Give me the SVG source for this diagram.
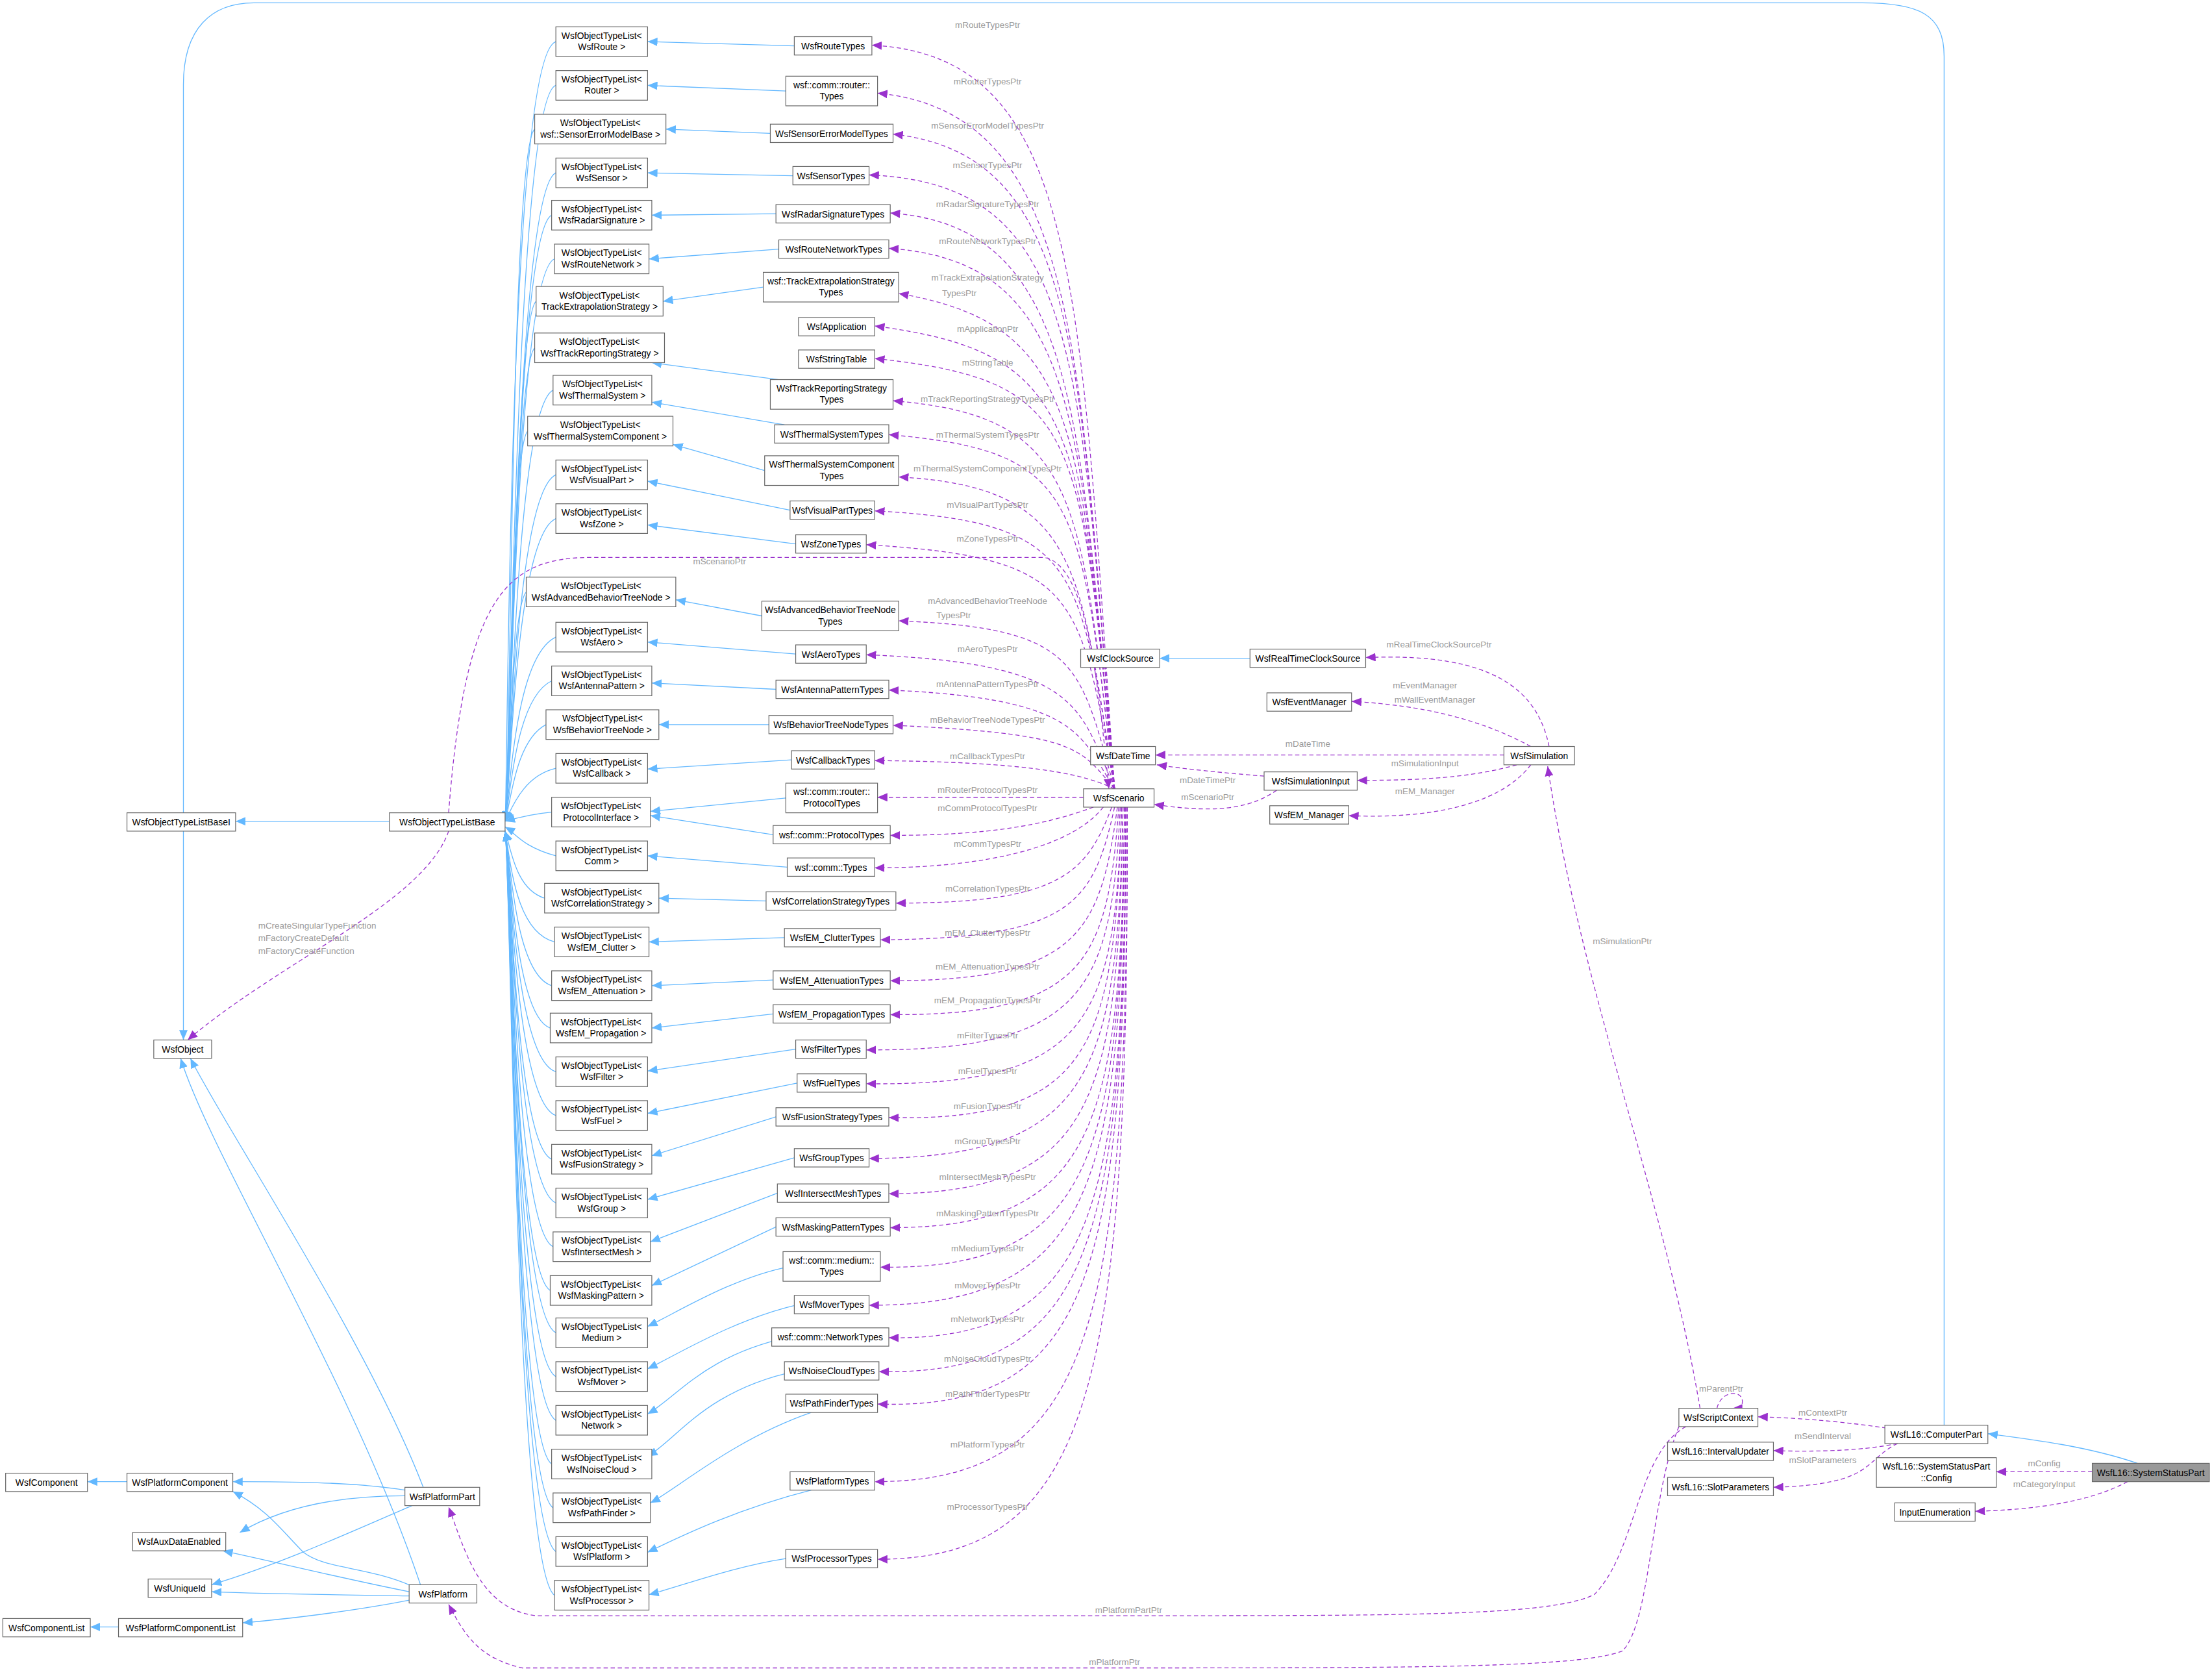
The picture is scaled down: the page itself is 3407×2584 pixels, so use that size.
<svg xmlns="http://www.w3.org/2000/svg" width="3407" height="2584" viewBox="0 0 3407 2584">
<style>
.n rect{fill:#fff;stroke:#666;stroke-width:0.55}
.n text,.t{font-family:"Liberation Sans",Arial,sans-serif;font-size:6.4px;fill:#000;text-anchor:middle}
.l{font-family:"Liberation Sans",Arial,sans-serif;font-size:6.2px;fill:#9a9a9a;text-anchor:middle}
.b{fill:none;stroke:#63b8ff;stroke-width:0.6;marker-end:url(#ab)}
.p{fill:none;stroke:#9a32cd;stroke-width:0.6;stroke-dasharray:3,2;marker-end:url(#ap)}
</style>
<defs>
<marker id="ab" markerUnits="userSpaceOnUse" markerWidth="7" markerHeight="6" refX="7" refY="3" orient="auto"><path d="M0,0 L7,3 L0,6 z" fill="#63b8ff"/></marker>
<marker id="ap" markerUnits="userSpaceOnUse" markerWidth="7" markerHeight="6" refX="7" refY="3" orient="auto"><path d="M0,0 L7,3 L0,6 z" fill="#9a32cd"/></marker>
</defs>
<rect width="3407" height="2584" fill="#fff"/>
<g transform="scale(2.173)">
<g id="connectors">
<path class="b" d="M1378,1010 L1378,40 C1378,10 1360,2 1320,2 L180,2 C150,2 130,20 130,60 L130,737"/>
<path class="b" d="M276,582 L167,582"/>
<path class="p" d="M318,589 C300,640 200,680 133,737"/>
<text class="l" x="183" y="658" style="text-anchor:start">mCreateSingularTypeFunction</text>
<text class="l" x="183" y="667" style="text-anchor:start">mFactoryCreateDefault</text>
<text class="l" x="183" y="676" style="text-anchor:start">mFactoryCreateFunction</text>
<path class="b" d="M300,1054 C260,950 160,800 135,750"/>
<path class="b" d="M298,1123 C250,980 150,820 128,750"/>
<path class="b" d="M287,1056 C250,1050 200,1050 165,1050"/>
<path class="b" d="M287,1060 C240,1060 200,1068 170,1086"/>
<path class="b" d="M292,1067 C250,1085 200,1108 150,1123"/>
<path class="b" d="M292,1124 C260,1110 230,1112 215,1100 C200,1085 190,1070 165,1057"/>
<path class="b" d="M290,1128 C240,1118 200,1108 158,1099"/>
<path class="b" d="M290,1131 C240,1130 200,1130 150,1128"/>
<path class="b" d="M290,1134 C260,1140 210,1147 172,1150"/>
<path class="b" d="M90,1050 L62,1050"/>
<path class="b" d="M84,1153 L64,1153"/>
<g id="tb">
<path class="b" d="M394,29.5 C360,40 360,560 358,582"/>
<path class="b" d="M394,60.5 C365,70 362,560 358,582"/>
<path class="b" d="M379,91.5 C362,105 362,560 358,582"/>
<path class="b" d="M394,122.5 C365,135 362,560 358,582"/>
<path class="b" d="M391,152.5 C365,165 362,560 358,582"/>
<path class="b" d="M393,183.5 C365,195 362,560 358,582"/>
<path class="b" d="M380,213.5 C365,225 362,560 358,582"/>
<path class="b" d="M379,246.5 C365,258 362,560 358,582"/>
<path class="b" d="M392,276.5 C365,290 362,560 358,582"/>
<path class="b" d="M374,305.5 C362,318 362,560 358,582"/>
<path class="b" d="M394,336.5 C365,350 362,560 358,582"/>
<path class="b" d="M394,367.5 C365,380 362,560 358,582"/>
<path class="b" d="M373,419.5 C362,432 362,560 358,582"/>
<path class="b" d="M394,451.5 C365,465 362,560 358,582"/>
<path class="b" d="M391,482.5 C365,495 362,565 358,582"/>
<path class="b" d="M387,513.5 C365,525 362,570 358,582"/>
<path class="b" d="M394,544.5 C370,550 362,575 358,582"/>
<path class="b" d="M391,575.5 C375,577 365,580 358,582"/>
<path class="b" d="M394,606.5 C370,600 365,590 358,586"/>
<path class="b" d="M386,636.5 C365,630 362,600 358,589"/>
<path class="b" d="M393,667.5 C365,660 362,610 358,589"/>
<path class="b" d="M391,698.5 C365,690 362,610 358,589"/>
<path class="b" d="M390,728.5 C365,720 362,610 358,589"/>
<path class="b" d="M394,759.5 C365,750 362,610 358,589"/>
<path class="b" d="M394,790.5 C365,780 362,610 358,589"/>
<path class="b" d="M391,821.5 C365,810 362,610 358,589"/>
<path class="b" d="M394,852.5 C365,840 362,610 358,589"/>
<path class="b" d="M392,883.5 C365,870 362,610 358,589"/>
<path class="b" d="M390,914.5 C365,900 362,610 358,589"/>
<path class="b" d="M394,944.5 C365,930 362,610 358,589"/>
<path class="b" d="M394,975.5 C365,960 362,610 358,589"/>
<path class="b" d="M394,1006.5 C365,990 362,610 358,589"/>
<path class="b" d="M391,1037.5 C365,1020 362,610 358,589"/>
<path class="b" d="M392,1068.5 C365,1050 362,610 358,589"/>
<path class="b" d="M394,1099.5 C365,1080 362,610 358,589"/>
<path class="b" d="M393,1130.5 C365,1110 362,610 358,589"/>
</g>
<g id="yt">
<path class="b" d="M563,32.5 L459,29.5"/>
<path class="b" d="M557,64.5 L459,60.5"/>
<path class="b" d="M546,94.5 L472,91.5"/>
<path class="b" d="M562,124.5 L459,122.5"/>
<path class="b" d="M550,151.5 L462,152.5"/>
<path class="b" d="M552,176.5 L460,183.5"/>
<path class="b" d="M541,203.5 L470,213.5"/>
<path class="b" d="M552,269 L462,257"/>
<path class="b" d="M556,301 L462,285"/>
<path class="b" d="M542,333.5 L477,315"/>
<path class="b" d="M560,361.5 L459,341"/>
<path class="b" d="M564,385.5 L459,372"/>
<path class="b" d="M540,436.5 L479,425"/>
<path class="b" d="M564,463.5 L459,455"/>
<path class="b" d="M550,488.5 L462,484"/>
<path class="b" d="M545,513.5 L467,513.5"/>
<path class="b" d="M561,538.5 L459,545"/>
<path class="b" d="M557,565.5 L461,575"/>
<path class="b" d="M548,591.5 L461,578"/>
<path class="b" d="M558,614.5 L459,606.5"/>
<path class="b" d="M543,638.5 L467,636.5"/>
<path class="b" d="M556,664.5 L460,667.5"/>
<path class="b" d="M548,694.5 L462,698.5"/>
<path class="b" d="M548,718.5 L462,728.5"/>
<path class="b" d="M564,743.5 L459,759"/>
<path class="b" d="M565,767.5 L459,789"/>
<path class="b" d="M550,791.5 L462,819"/>
<path class="b" d="M563,820.5 L459,850"/>
<path class="b" d="M551,845.5 L461,880"/>
<path class="b" d="M550,869.5 L462,911"/>
<path class="b" d="M560,897.5 C520,905 480,930 459,940"/>
<path class="b" d="M566,924.5 C520,935 480,960 459,970"/>
<path class="b" d="M560,947.5 C500,960 480,990 459,1002"/>
<path class="b" d="M565,971.5 C500,985 480,1020 459,1032"/>
<path class="b" d="M575,1001 C520,1020 480,1055 461,1065"/>
<path class="b" d="M575,1056 C520,1070 480,1090 459,1100"/>
<path class="b" d="M557,1104.5 C520,1110 480,1125 460,1130"/>
</g>
<g id="sy">
<path class="p" d="M790,559 C765,200 765,40 618,32"/>
<path class="p" d="M790,559 C765,250 765,80 622,66"/>
<path class="p" d="M790,559 C765,250 765,110 633,95"/>
<path class="p" d="M790,559 C765,250 765,130 616,124"/>
<path class="p" d="M790,559 C765,300 765,160 631,151"/>
<path class="p" d="M790,559 C765,300 765,185 630,176"/>
<path class="p" d="M790,559 C765,300 765,230 637,208"/>
<path class="p" d="M790,559 C765,300 765,250 620,231"/>
<path class="p" d="M790,559 C765,300 765,270 620,254"/>
<path class="p" d="M790,559 C765,350 765,295 633,284"/>
<path class="p" d="M790,559 C765,350 765,320 630,308"/>
<path class="p" d="M790,559 C765,400 765,345 637,338"/>
<path class="p" d="M790,559 C765,400 765,370 620,362"/>
<path class="p" d="M790,559 C765,420 765,395 614,386"/>
<path class="p" d="M790,559 C765,470 765,445 637,440"/>
<path class="p" d="M790,559 C765,500 765,470 614,464"/>
<path class="p" d="M790,559 C765,520 765,495 630,489"/>
<path class="p" d="M790,559 C765,530 765,520 633,514"/>
<path class="p" d="M790,559 C770,550 740,540 620,539"/>
<path class="p" d="M768,565 L622,565"/>
<path class="p" d="M775,572 C740,585 700,592 631,592"/>
<path class="p" d="M782,572 C760,600 700,615 620,615"/>
<path class="p" d="M788,572 C770,620 750,640 635,640"/>
<path class="p" d="M790,572 C775,640 760,665 624,666"/>
<path class="p" d="M792,572 C780,660 765,695 631,695"/>
<path class="p" d="M793,572 C785,680 770,720 631,719"/>
<path class="p" d="M794,572 C788,700 770,745 614,744"/>
<path class="p" d="M795,572 C790,720 775,770 614,768"/>
<path class="p" d="M795,572 C790,740 775,795 630,792"/>
<path class="p" d="M796,572 C792,760 775,820 616,821"/>
<path class="p" d="M796,572 C793,780 775,845 630,846"/>
<path class="p" d="M797,572 C795,800 775,870 631,870"/>
<path class="p" d="M797,572 C795,820 775,900 624,898"/>
<path class="p" d="M797,572 C796,840 775,925 616,925"/>
<path class="p" d="M798,572 C797,860 775,950 630,948"/>
<path class="p" d="M798,572 C797,880 775,975 623,972"/>
<path class="p" d="M798,572 C798,900 775,1000 622,995"/>
<path class="p" d="M799,572 C799,940 775,1050 620,1050"/>
<path class="p" d="M799,572 C800,980 775,1105 622,1105"/>
</g>
<g id="sl">
<text class="l" x="700" y="20">mRouteTypesPtr</text>
<text class="l" x="700" y="60">mRouterTypesPtr</text>
<text class="l" x="700" y="91">mSensorErrorModelTypesPtr</text>
<text class="l" x="700" y="119">mSensorTypesPtr</text>
<text class="l" x="700" y="147">mRadarSignatureTypesPtr</text>
<text class="l" x="700" y="173">mRouteNetworkTypesPtr</text>
<text class="l" x="700" y="199">mTrackExtrapolationStrategy</text>
<text class="l" x="680" y="210">TypesPtr</text>
<text class="l" x="700" y="235">mApplicationPtr</text>
<text class="l" x="700" y="259">mStringTable</text>
<text class="l" x="700" y="285">mTrackReportingStrategyTypesPtr</text>
<text class="l" x="700" y="310">mThermalSystemTypesPtr</text>
<text class="l" x="700" y="334">mThermalSystemComponentTypesPtr</text>
<text class="l" x="700" y="360">mVisualPartTypesPtr</text>
<text class="l" x="700" y="384">mZoneTypesPtr</text>
<text class="l" x="510" y="400">mScenarioPtr</text>
<text class="l" x="700" y="428">mAdvancedBehaviorTreeNode</text>
<text class="l" x="676" y="438">TypesPtr</text>
<text class="l" x="700" y="462">mAeroTypesPtr</text>
<text class="l" x="700" y="487">mAntennaPatternTypesPtr</text>
<text class="l" x="700" y="512">mBehaviorTreeNodeTypesPtr</text>
<text class="l" x="700" y="538">mCallbackTypesPtr</text>
<text class="l" x="700" y="562">mRouterProtocolTypesPtr</text>
<text class="l" x="700" y="575">mCommProtocolTypesPtr</text>
<text class="l" x="700" y="600">mCommTypesPtr</text>
<text class="l" x="700" y="632">mCorrelationTypesPtr</text>
<text class="l" x="700" y="663">mEM_ClutterTypesPtr</text>
<text class="l" x="700" y="687">mEM_AttenuationTypesPtr</text>
<text class="l" x="700" y="711">mEM_PropagationTypesPtr</text>
<text class="l" x="700" y="736">mFilterTypesPtr</text>
<text class="l" x="700" y="761">mFuelTypesPtr</text>
<text class="l" x="700" y="786">mFusionTypesPtr</text>
<text class="l" x="700" y="811">mGroupTypesPtr</text>
<text class="l" x="700" y="836">mIntersectMeshTypesPtr</text>
<text class="l" x="700" y="862">mMaskingPatternTypesPtr</text>
<text class="l" x="700" y="887">mMediumTypesPtr</text>
<text class="l" x="700" y="913">mMoverTypesPtr</text>
<text class="l" x="700" y="937">mNetworkTypesPtr</text>
<text class="l" x="700" y="965">mNoiseCloudTypesPtr</text>
<text class="l" x="700" y="990">mPathFinderTypesPtr</text>
<text class="l" x="700" y="1026">mPlatformTypesPtr</text>
<text class="l" x="700" y="1070">mProcessorTypesPtr</text>
</g>
<path class="p" d="M318,576 C330,420 360,395 420,395 L740,395 C770,400 778,480 786,559"/>
<path class="b" d="M886,466.5 L822,466.5"/>
<path class="p" d="M1098,529 C1090,490 1060,462 968,466"/>
<path class="p" d="M1085,529 C1050,510 1010,500 958,497"/>
<text class="l" x="1020" y="459">mRealTimeClockSourcePtr</text>
<text class="l" x="1010" y="488">mEventManager</text>
<text class="l" x="1017" y="498">mWallEventManager</text>
<path class="p" d="M1066,535 L819,535"/>
<text class="l" x="927" y="529">mDateTime</text>
<path class="p" d="M1075,542 C1040,552 1000,553 962,553"/>
<text class="l" x="1010" y="543">mSimulationInput</text>
<path class="p" d="M1085,542 C1060,575 1000,580 956,578"/>
<text class="l" x="1010" y="563">mEM_Manager</text>
<path class="p" d="M896,550 C870,548 840,545 820,542"/>
<text class="l" x="856" y="555">mDateTimePtr</text>
<path class="p" d="M905,560 C890,570 870,578 818,570"/>
<text class="l" x="856" y="567">mScenarioPtr</text>
<path class="p" d="M1205,998 C1180,850 1120,700 1097,543"/>
<text class="l" x="1150" y="669">mSimulationPtr</text>
<path class="p" d="M1217,998 C1220,985 1235,985 1235,993 C1235,1000 1230,998 1228,998"/>
<text class="l" x="1220" y="986">mParentPtr</text>
<path class="p" d="M1195,1011 C1160,1030 1160,1100 1130,1130 C1100,1145 1000,1145 800,1145 L380,1145 C340,1140 330,1100 318,1068"/>
<text class="l" x="800" y="1143">mPlatformPartPtr</text>
<path class="p" d="M1190,1011 C1170,1060 1170,1150 1150,1170 C1120,1182 1000,1182 800,1182 L370,1182 C340,1175 330,1160 318,1137"/>
<text class="l" x="790" y="1180">mPlatformPtr</text>
<path class="p" d="M1337,1012 C1310,1008 1280,1005 1246,1004"/>
<text class="l" x="1292" y="1003">mContextPtr</text>
<path class="p" d="M1345,1023 C1320,1028 1290,1029 1257,1028"/>
<text class="l" x="1292" y="1020">mSendInterval</text>
<path class="p" d="M1345,1023 C1320,1035 1330,1052 1257,1054"/>
<text class="l" x="1292" y="1037">mSlotParameters</text>
<path class="b" d="M1515,1037 C1480,1025 1440,1020 1409,1016"/>
<path class="p" d="M1483,1043 L1415,1043"/>
<text class="l" x="1449" y="1039">mConfig</text>
<path class="p" d="M1508,1050 C1480,1065 1440,1070 1400,1071"/>
<text class="l" x="1449" y="1054">mCategoryInput</text>
</g>
<g id="nodes">
<g class="n" id="base1"><rect x="90" y="576" width="77" height="13"/><text x="128.5" y="585">WsfObjectTypeListBaseI</text></g>
<g class="n" id="base"><rect x="276" y="576" width="82" height="13"/><text x="317" y="585">WsfObjectTypeListBase</text></g>
<g class="n" id="obj"><rect x="109" y="737" width="41" height="13"/><text x="129.5" y="746">WsfObject</text></g>
<g class="n" id="comp"><rect x="4" y="1044" width="58" height="13"/><text x="33" y="1053">WsfComponent</text></g>
<g class="n" id="pcomp"><rect x="90" y="1044" width="75" height="13"/><text x="127.5" y="1053">WsfPlatformComponent</text></g>
<g class="n" id="aux"><rect x="94" y="1086" width="66" height="13"/><text x="127" y="1095">WsfAuxDataEnabled</text></g>
<g class="n" id="uid"><rect x="105" y="1119" width="45" height="13"/><text x="127.5" y="1128">WsfUniqueId</text></g>
<g class="n" id="clist"><rect x="2" y="1147" width="62" height="13"/><text x="33" y="1156">WsfComponentList</text></g>
<g class="n" id="pclist"><rect x="84" y="1147" width="88" height="13"/><text x="128" y="1156">WsfPlatformComponentList</text></g>
<g class="n" id="ppart"><rect x="287" y="1054" width="53" height="13"/><text x="313.5" y="1063">WsfPlatformPart</text></g>
<g class="n" id="plat"><rect x="290" y="1123" width="48" height="13"/><text x="314" y="1132">WsfPlatform</text></g>
<g id="templates">
<g class="n" id="t1"><rect x="394" y="19" width="65" height="21"/><text x="426.5" y="27.5">WsfObjectTypeList&lt;</text><text x="426.5" y="35.5">WsfRoute &gt;</text></g>
<g class="n" id="t2"><rect x="394" y="50" width="65" height="21"/><text x="426.5" y="58.5">WsfObjectTypeList&lt;</text><text x="426.5" y="66.5">Router &gt;</text></g>
<g class="n" id="t3"><rect x="379" y="81" width="93" height="21"/><text x="425.5" y="89.5">WsfObjectTypeList&lt;</text><text x="425.5" y="97.5">wsf::SensorErrorModelBase &gt;</text></g>
<g class="n" id="t4"><rect x="394" y="112" width="65" height="21"/><text x="426.5" y="120.5">WsfObjectTypeList&lt;</text><text x="426.5" y="128.5">WsfSensor &gt;</text></g>
<g class="n" id="t5"><rect x="391" y="142" width="71" height="21"/><text x="426.5" y="150.5">WsfObjectTypeList&lt;</text><text x="426.5" y="158.5">WsfRadarSignature &gt;</text></g>
<g class="n" id="t6"><rect x="393" y="173" width="67" height="21"/><text x="426.5" y="181.5">WsfObjectTypeList&lt;</text><text x="426.5" y="189.5">WsfRouteNetwork &gt;</text></g>
<g class="n" id="t7"><rect x="380" y="203" width="90" height="21"/><text x="425" y="211.5">WsfObjectTypeList&lt;</text><text x="425" y="219.5">TrackExtrapolationStrategy &gt;</text></g>
<g class="n" id="t8"><rect x="379" y="236" width="92" height="21"/><text x="425" y="244.5">WsfObjectTypeList&lt;</text><text x="425" y="252.5">WsfTrackReportingStrategy &gt;</text></g>
<g class="n" id="t9"><rect x="392" y="266" width="70" height="21"/><text x="427" y="274.5">WsfObjectTypeList&lt;</text><text x="427" y="282.5">WsfThermalSystem &gt;</text></g>
<g class="n" id="t10"><rect x="374" y="295" width="103" height="21"/><text x="425.5" y="303.5">WsfObjectTypeList&lt;</text><text x="425.5" y="311.5">WsfThermalSystemComponent &gt;</text></g>
<g class="n" id="t11"><rect x="394" y="326" width="65" height="21"/><text x="426.5" y="334.5">WsfObjectTypeList&lt;</text><text x="426.5" y="342.5">WsfVisualPart &gt;</text></g>
<g class="n" id="t12"><rect x="394" y="357" width="65" height="21"/><text x="426.5" y="365.5">WsfObjectTypeList&lt;</text><text x="426.5" y="373.5">WsfZone &gt;</text></g>
<g class="n" id="t13"><rect x="373" y="409" width="106" height="21"/><text x="426" y="417.5">WsfObjectTypeList&lt;</text><text x="426" y="425.5">WsfAdvancedBehaviorTreeNode &gt;</text></g>
<g class="n" id="t14"><rect x="394" y="441" width="65" height="21"/><text x="426.5" y="449.5">WsfObjectTypeList&lt;</text><text x="426.5" y="457.5">WsfAero &gt;</text></g>
<g class="n" id="t15"><rect x="391" y="472" width="71" height="21"/><text x="426.5" y="480.5">WsfObjectTypeList&lt;</text><text x="426.5" y="488.5">WsfAntennaPattern &gt;</text></g>
<g class="n" id="t16"><rect x="387" y="503" width="80" height="21"/><text x="427" y="511.5">WsfObjectTypeList&lt;</text><text x="427" y="519.5">WsfBehaviorTreeNode &gt;</text></g>
<g class="n" id="t17"><rect x="394" y="534" width="65" height="21"/><text x="426.5" y="542.5">WsfObjectTypeList&lt;</text><text x="426.5" y="550.5">WsfCallback &gt;</text></g>
<g class="n" id="t18"><rect x="391" y="565" width="70" height="21"/><text x="426" y="573.5">WsfObjectTypeList&lt;</text><text x="426" y="581.5">ProtocolInterface &gt;</text></g>
<g class="n" id="t19"><rect x="394" y="596" width="65" height="21"/><text x="426.5" y="604.5">WsfObjectTypeList&lt;</text><text x="426.5" y="612.5">Comm &gt;</text></g>
<g class="n" id="t20"><rect x="386" y="626" width="81" height="21"/><text x="426.5" y="634.5">WsfObjectTypeList&lt;</text><text x="426.5" y="642.5">WsfCorrelationStrategy &gt;</text></g>
<g class="n" id="t21"><rect x="393" y="657" width="67" height="21"/><text x="426.5" y="665.5">WsfObjectTypeList&lt;</text><text x="426.5" y="673.5">WsfEM_Clutter &gt;</text></g>
<g class="n" id="t22"><rect x="391" y="688" width="71" height="21"/><text x="426.5" y="696.5">WsfObjectTypeList&lt;</text><text x="426.5" y="704.5">WsfEM_Attenuation &gt;</text></g>
<g class="n" id="t23"><rect x="390" y="718" width="72" height="21"/><text x="426" y="726.5">WsfObjectTypeList&lt;</text><text x="426" y="734.5">WsfEM_Propagation &gt;</text></g>
<g class="n" id="t24"><rect x="394" y="749" width="65" height="21"/><text x="426.5" y="757.5">WsfObjectTypeList&lt;</text><text x="426.5" y="765.5">WsfFilter &gt;</text></g>
<g class="n" id="t25"><rect x="394" y="780" width="65" height="21"/><text x="426.5" y="788.5">WsfObjectTypeList&lt;</text><text x="426.5" y="796.5">WsfFuel &gt;</text></g>
<g class="n" id="t26"><rect x="391" y="811" width="71" height="21"/><text x="426.5" y="819.5">WsfObjectTypeList&lt;</text><text x="426.5" y="827.5">WsfFusionStrategy &gt;</text></g>
<g class="n" id="t27"><rect x="394" y="842" width="65" height="21"/><text x="426.5" y="850.5">WsfObjectTypeList&lt;</text><text x="426.5" y="858.5">WsfGroup &gt;</text></g>
<g class="n" id="t28"><rect x="392" y="873" width="69" height="21"/><text x="426.5" y="881.5">WsfObjectTypeList&lt;</text><text x="426.5" y="889.5">WsfIntersectMesh &gt;</text></g>
<g class="n" id="t29"><rect x="390" y="904" width="72" height="21"/><text x="426" y="912.5">WsfObjectTypeList&lt;</text><text x="426" y="920.5">WsfMaskingPattern &gt;</text></g>
<g class="n" id="t30"><rect x="394" y="934" width="65" height="21"/><text x="426.5" y="942.5">WsfObjectTypeList&lt;</text><text x="426.5" y="950.5">Medium &gt;</text></g>
<g class="n" id="t31"><rect x="394" y="965" width="65" height="21"/><text x="426.5" y="973.5">WsfObjectTypeList&lt;</text><text x="426.5" y="981.5">WsfMover &gt;</text></g>
<g class="n" id="t32"><rect x="394" y="996" width="65" height="21"/><text x="426.5" y="1004.5">WsfObjectTypeList&lt;</text><text x="426.5" y="1012.5">Network &gt;</text></g>
<g class="n" id="t33"><rect x="391" y="1027" width="71" height="21"/><text x="426.5" y="1035.5">WsfObjectTypeList&lt;</text><text x="426.5" y="1043.5">WsfNoiseCloud &gt;</text></g>
<g class="n" id="t34"><rect x="392" y="1058" width="69" height="21"/><text x="426.5" y="1066.5">WsfObjectTypeList&lt;</text><text x="426.5" y="1074.5">WsfPathFinder &gt;</text></g>
<g class="n" id="t35"><rect x="394" y="1089" width="65" height="21"/><text x="426.5" y="1097.5">WsfObjectTypeList&lt;</text><text x="426.5" y="1105.5">WsfPlatform &gt;</text></g>
<g class="n" id="t36"><rect x="393" y="1120" width="67" height="21"/><text x="426.5" y="1128.5">WsfObjectTypeList&lt;</text><text x="426.5" y="1136.5">WsfProcessor &gt;</text></g>
</g>
<g id="types">
<g class="n" id="y1"><rect x="563" y="26" width="55" height="13"/><text x="590.5" y="35">WsfRouteTypes</text></g>
<g class="n" id="y2"><rect x="557" y="54" width="65" height="21"/><text x="589.5" y="62.5">wsf::comm::router::</text><text x="589.5" y="70.5">Types</text></g>
<g class="n" id="y3"><rect x="546" y="88" width="87" height="13"/><text x="589.5" y="97">WsfSensorErrorModelTypes</text></g>
<g class="n" id="y4"><rect x="562" y="118" width="54" height="13"/><text x="589" y="127">WsfSensorTypes</text></g>
<g class="n" id="y5"><rect x="550" y="145" width="81" height="13"/><text x="590.5" y="154">WsfRadarSignatureTypes</text></g>
<g class="n" id="y6"><rect x="552" y="170" width="78" height="13"/><text x="591" y="179">WsfRouteNetworkTypes</text></g>
<g class="n" id="y7"><rect x="541" y="193" width="96" height="21"/><text x="589" y="201.5">wsf::TrackExtrapolationStrategy</text><text x="589" y="209.5">Types</text></g>
<g class="n" id="y8"><rect x="566" y="225" width="54" height="13"/><text x="593" y="234">WsfApplication</text></g>
<g class="n" id="y9"><rect x="566" y="248" width="54" height="13"/><text x="593" y="257">WsfStringTable</text></g>
<g class="n" id="y10"><rect x="546" y="269" width="87" height="21"/><text x="589.5" y="277.5">WsfTrackReportingStrategy</text><text x="589.5" y="285.5">Types</text></g>
<g class="n" id="y11"><rect x="549" y="301" width="81" height="13"/><text x="589.5" y="310">WsfThermalSystemTypes</text></g>
<g class="n" id="y12"><rect x="542" y="323" width="95" height="21"/><text x="589.5" y="331.5">WsfThermalSystemComponent</text><text x="589.5" y="339.5">Types</text></g>
<g class="n" id="y13"><rect x="560" y="355" width="60" height="13"/><text x="590" y="364">WsfVisualPartTypes</text></g>
<g class="n" id="y14"><rect x="564" y="379" width="50" height="13"/><text x="589" y="388">WsfZoneTypes</text></g>
<g class="n" id="y15"><rect x="540" y="426" width="97" height="21"/><text x="588.5" y="434.5">WsfAdvancedBehaviorTreeNode</text><text x="588.5" y="442.5">Types</text></g>
<g class="n" id="y16"><rect x="564" y="457" width="50" height="13"/><text x="589" y="466">WsfAeroTypes</text></g>
<g class="n" id="y17"><rect x="550" y="482" width="80" height="13"/><text x="590" y="491">WsfAntennaPatternTypes</text></g>
<g class="n" id="y18"><rect x="545" y="507" width="88" height="13"/><text x="589" y="516">WsfBehaviorTreeNodeTypes</text></g>
<g class="n" id="y19"><rect x="561" y="532" width="59" height="13"/><text x="590.5" y="541">WsfCallbackTypes</text></g>
<g class="n" id="y20"><rect x="557" y="555" width="65" height="21"/><text x="589.5" y="563.5">wsf::comm::router::</text><text x="589.5" y="571.5">ProtocolTypes</text></g>
<g class="n" id="y21"><rect x="548" y="585" width="83" height="13"/><text x="589.5" y="594">wsf::comm::ProtocolTypes</text></g>
<g class="n" id="y22"><rect x="558" y="608" width="62" height="13"/><text x="589" y="617">wsf::comm::Types</text></g>
<g class="n" id="y23"><rect x="543" y="632" width="92" height="13"/><text x="589" y="641">WsfCorrelationStrategyTypes</text></g>
<g class="n" id="y24"><rect x="556" y="658" width="68" height="13"/><text x="590" y="667">WsfEM_ClutterTypes</text></g>
<g class="n" id="y25"><rect x="548" y="688" width="83" height="13"/><text x="589.5" y="697">WsfEM_AttenuationTypes</text></g>
<g class="n" id="y26"><rect x="548" y="712" width="83" height="13"/><text x="589.5" y="721">WsfEM_PropagationTypes</text></g>
<g class="n" id="y27"><rect x="564" y="737" width="50" height="13"/><text x="589" y="746">WsfFilterTypes</text></g>
<g class="n" id="y28"><rect x="565" y="761" width="49" height="13"/><text x="589.5" y="770">WsfFuelTypes</text></g>
<g class="n" id="y29"><rect x="550" y="785" width="80" height="13"/><text x="590" y="794">WsfFusionStrategyTypes</text></g>
<g class="n" id="y30"><rect x="563" y="814" width="53" height="13"/><text x="589.5" y="823">WsfGroupTypes</text></g>
<g class="n" id="y31"><rect x="551" y="839" width="79" height="13"/><text x="590.5" y="848">WsfIntersectMeshTypes</text></g>
<g class="n" id="y32"><rect x="550" y="863" width="81" height="13"/><text x="590.5" y="872">WsfMaskingPatternTypes</text></g>
<g class="n" id="y33"><rect x="555" y="887" width="69" height="21"/><text x="589.5" y="895.5">wsf::comm::medium::</text><text x="589.5" y="903.5">Types</text></g>
<g class="n" id="y34"><rect x="563" y="918" width="53" height="13"/><text x="589.5" y="927">WsfMoverTypes</text></g>
<g class="n" id="y35"><rect x="547" y="941" width="83" height="13"/><text x="588.5" y="950">wsf::comm::NetworkTypes</text></g>
<g class="n" id="y36"><rect x="556" y="965" width="67" height="13"/><text x="589.5" y="974">WsfNoiseCloudTypes</text></g>
<g class="n" id="y37"><rect x="557" y="988" width="65" height="13"/><text x="589.5" y="997">WsfPathFinderTypes</text></g>
<g class="n" id="y38"><rect x="560" y="1043" width="60" height="13"/><text x="590" y="1052">WsfPlatformTypes</text></g>
<g class="n" id="y39"><rect x="557" y="1098" width="65" height="13"/><text x="589.5" y="1107">WsfProcessorTypes</text></g>
</g>
<g class="n" id="scen"><rect x="768" y="559" width="50" height="13"/><text x="793" y="568">WsfScenario</text></g>
<g class="n" id="clk"><rect x="766" y="460" width="56" height="13"/><text x="794" y="469">WsfClockSource</text></g>
<g class="n" id="rtc"><rect x="886" y="460" width="82" height="13"/><text x="927" y="469">WsfRealTimeClockSource</text></g>
<g class="n" id="evm"><rect x="898" y="491" width="60" height="13"/><text x="928" y="500">WsfEventManager</text></g>
<g class="n" id="dt"><rect x="773" y="529" width="46" height="13"/><text x="796" y="538">WsfDateTime</text></g>
<g class="n" id="simin"><rect x="896" y="547" width="66" height="13"/><text x="929" y="556">WsfSimulationInput</text></g>
<g class="n" id="emm"><rect x="900" y="571" width="56" height="13"/><text x="928" y="580">WsfEM_Manager</text></g>
<g class="n" id="sim"><rect x="1066" y="529" width="50" height="13"/><text x="1091" y="538">WsfSimulation</text></g>
<g class="n" id="sctx"><rect x="1190" y="998" width="56" height="13"/><text x="1218" y="1007">WsfScriptContext</text></g>
<g class="n" id="iu"><rect x="1182" y="1022" width="75" height="13"/><text x="1219.5" y="1031">WsfL16::IntervalUpdater</text></g>
<g class="n" id="sp"><rect x="1182" y="1047" width="75" height="13"/><text x="1219.5" y="1056">WsfL16::SlotParameters</text></g>
<g class="n" id="cp"><rect x="1336" y="1010" width="73" height="13"/><text x="1372.5" y="1019">WsfL16::ComputerPart</text></g>
<g class="n" id="cfg"><rect x="1330" y="1033" width="85" height="21"/><text x="1372.5" y="1041.5">WsfL16::SystemStatusPart</text><text x="1372.5" y="1049.5">::Config</text></g>
<g class="n" id="ie"><rect x="1343" y="1065" width="57" height="13"/><text x="1371.5" y="1074">InputEnumeration</text></g>
<g class="n" id="ssp"><rect x="1483" y="1037" width="83" height="13" style="fill:#999"/><text x="1524.5" y="1046">WsfL16::SystemStatusPart</text></g>
</g>
</g>
</svg>
